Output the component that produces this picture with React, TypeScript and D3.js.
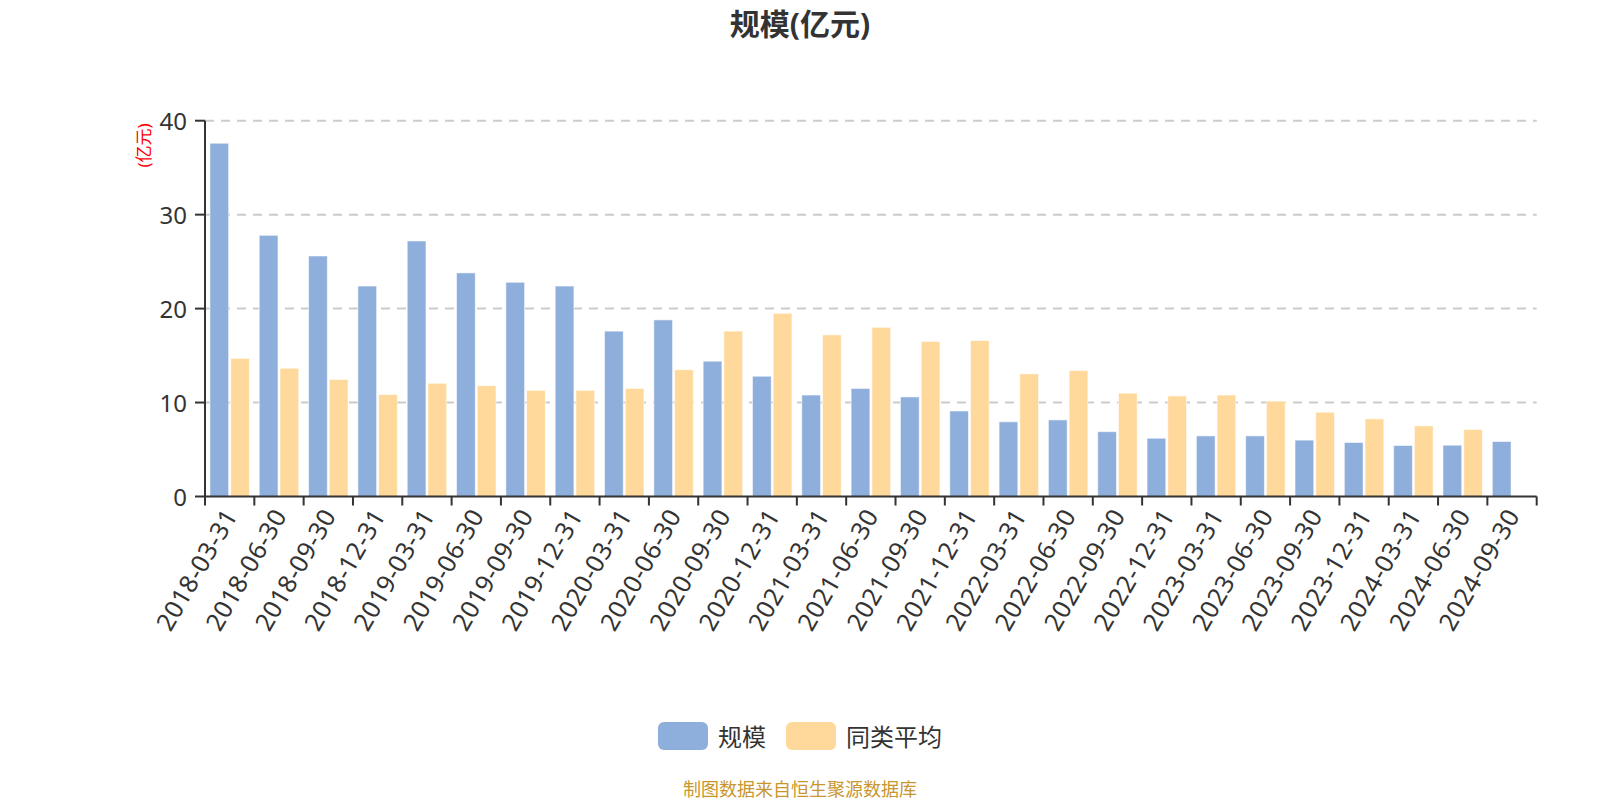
import React from "react";
import * as d3 from "d3";

const categories: string[] = [
  "2018-03-31", "2018-06-30", "2018-09-30", "2018-12-31",
  "2019-03-31", "2019-06-30", "2019-09-30", "2019-12-31",
  "2020-03-31", "2020-06-30", "2020-09-30", "2020-12-31",
  "2021-03-31", "2021-06-30", "2021-09-30", "2021-12-31",
  "2022-03-31", "2022-06-30", "2022-09-30", "2022-12-31",
  "2023-03-31", "2023-06-30", "2023-09-30", "2023-12-31",
  "2024-03-31", "2024-06-30", "2024-09-30",
];

const scaleValues: (number | null)[] = [
  37.6, 27.8, 25.6, 22.4, 27.2, 23.8, 22.8, 22.4, 17.6, 18.8, 14.4, 12.8,
  10.8, 11.5, 10.6, 9.1, 7.95, 8.15, 6.9, 6.2, 6.45, 6.45, 6.0, 5.75, 5.43,
  5.46, 5.85,
];

const peerAvgValues: (number | null)[] = [
  14.7, 13.65, 12.45, 10.85, 12.05, 11.8, 11.3, 11.3, 11.5, 13.5, 17.6, 19.5,
  17.2, 18.0, 16.5, 16.6, 13.05, 13.4, 11.0, 10.7, 10.8, 10.15, 8.97, 8.26,
  7.52, 7.13, null,
];

const seriesNames: string[] = ["规模", "同类平均"];
const seriesColors: string[] = ["#8eaedb", "#ffd99b"];
const yTicks: number[] = [0, 10, 20, 30, 40];

const title = "规模(亿元)";
const yAxisName = "(亿元)";
const footer = "制图数据来自恒生聚源数据库";

const W = 1600;
const H = 800;
const left = 205;
const right = 1536.7;
const top = 120.7;
const bottom = 496.5;

const FONT = "'Noto Sans', 'Noto Sans CJK SC', sans-serif";

export default function App() {
  const x = d3.scaleBand<string>().domain(categories).range([left, right]).padding(0);
  const bw = x.bandwidth();
  const x1 = d3
    .scaleBand<string>()
    .domain(seriesNames)
    .range([0, bw])
    .paddingInner(0.0966)
    .paddingOuter(0.238);
  const y = d3.scaleLinear().domain([0, 40]).range([bottom, top]);

  const series = [scaleValues, peerAvgValues];
  const tickXs = d3.range(categories.length + 1).map((i) => left + i * x.step());

  return (
    <svg
      width={W}
      height={H}
      style={{ position: "absolute", left: 0, top: 0, background: "#fff" }}
      fontFamily={FONT}
    >
      <text
        x={800}
        y={23}
        textAnchor="middle"
        dominantBaseline="central"
        fontSize={30}
        fontWeight="bold"
        fill="#333"
      >
        {title}
      </text>

      {/* grid lines */}
      {yTicks.filter((t) => t > 0).map((t) => (
        <line
          key={"g" + t}
          x1={left}
          x2={right}
          y1={y(t)}
          y2={y(t)}
          stroke="#ccc"
          strokeWidth={2}
          strokeDasharray="9 7"
        />
      ))}

      {/* bars */}
      {series.map((vals, si) => (
        <g key={"s" + si}>
          {categories.map((c, i) => {
            const v = vals[i];
            if (v === null || v === undefined) return null;
            const bx = (x(c) as number) + (x1(seriesNames[si]) as number);
            return (
              <rect
                key={c}
                x={bx}
                y={y(v)}
                width={x1.bandwidth()}
                height={y(0) - y(v)}
                fill={seriesColors[si]}
                stroke="rgba(255,255,255,0.55)"
                strokeWidth={1}
              />
            );
          })}
        </g>
      ))}

      {/* y axis */}
      <line x1={left} x2={left} y1={top} y2={bottom} stroke="#333" strokeWidth={2} />
      {yTicks.map((t) => (
        <g key={"y" + t}>
          <line x1={left - 10} x2={left} y1={y(t)} y2={y(t)} stroke="#333" strokeWidth={2} />
          <text
            x={left - 18}
            y={y(t)}
            textAnchor="end"
            dominantBaseline="central"
            fontSize={24}
            fill="#333"
          >
            {t}
          </text>
        </g>
      ))}
      <text
        transform={`translate(143.5,145.5) rotate(-90)`}
        textAnchor="middle"
        dominantBaseline="central"
        fontSize={17}
        fill="#ff0000"
      >
        {yAxisName}
      </text>

      {/* x axis */}
      <line x1={left} x2={right} y1={bottom} y2={bottom} stroke="#333" strokeWidth={2} />
      {tickXs.map((tx, i) => (
        <line key={"t" + i} x1={tx} x2={tx} y1={bottom} y2={bottom + 9} stroke="#333" strokeWidth={2} />
      ))}
      {categories.map((c) => {
        const cx = (x(c) as number) + bw / 2;
        return (
          <text
            key={"l" + c}
            transform={`translate(${cx},${bottom + 14}) rotate(-60)`}
            textAnchor="end"
            dominantBaseline="central"
            fontSize={25}
            letterSpacing={0.5}
            fill="#333"
          >
            {c}
          </text>
        );
      })}

      {/* legend */}
      {seriesNames.map((n, i) => {
        const lx = i === 0 ? 658 : 786;
        return (
          <g key={"lg" + n}>
            <rect x={lx} y={722} width={50} height={28} rx={6} ry={6} fill={seriesColors[i]} />
            <text x={lx + 60} y={736} dominantBaseline="central" fontSize={24} fill="#333">
              {n}
            </text>
          </g>
        );
      })}

      <text
        x={800}
        y={789}
        textAnchor="middle"
        dominantBaseline="central"
        fontSize={18}
        fill="#c9962e"
      >
        {footer}
      </text>
    </svg>
  );
}
